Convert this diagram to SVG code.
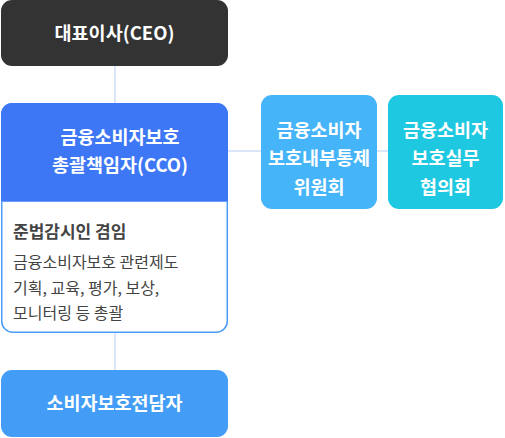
<svg xmlns="http://www.w3.org/2000/svg" width="505" height="438" viewBox="0 0 505 438">
<style>
.t{font-family:"Noto Sans CJK KR","Noto Sans",sans-serif;fill:#fff;font-weight:700;font-size:18.5px;text-anchor:middle}
.b{font-family:"Noto Sans CJK KR","Noto Sans",sans-serif;fill:#444;font-size:16px}
.line{stroke:#dbe6fb;stroke-width:2;fill:none}
</style>
<rect width="505" height="438" fill="#fff"/>
<g id="connectors">
<line class="line" x1="115" y1="66" x2="115" y2="103"/>
<line class="line" x1="228" y1="151" x2="261" y2="151"/>
<line class="line" x1="377" y1="151" x2="388" y2="151"/>
<line class="line" x1="115" y1="333" x2="115" y2="370"/>
</g>
<g id="ceo">
<rect x="1" y="0" width="227" height="66" rx="11" fill="#333333"/>
<text class="t" x="114.5" y="40">대표이사(CEO)</text>
</g>
<g id="cco">
<rect x="1.75" y="103.75" width="225.5" height="228.5" rx="11" fill="#fff" stroke="#4a9cf5" stroke-width="1.5"/>
<path d="M1,201 V114 A11,11 0 0 1 12,103 H217 A11,11 0 0 1 228,114 V201 Z" fill="#3e77f5"/>
<line x1="1" y1="201.5" x2="228" y2="201.5" stroke="#6b9cf8" stroke-width="1"/>
<text class="t" x="120" y="143.5">금융소비자보호</text>
<text class="t" x="120" y="171.5">총괄책임자(CCO)</text>
<text class="b" x="13" y="238" style="font-weight:700;font-size:17px">준법감시인 겸임</text>
<text class="b" x="13" y="268">금융소비자보호 관련제도</text>
<text class="b" x="13" y="294">기획, 교육, 평가, 보상,</text>
<text class="b" x="13" y="319">모니터링 등 총괄</text>
</g>
<g id="committee">
<rect x="261" y="95" width="116" height="114" rx="11" fill="#45b4f8"/>
<text class="t" x="319" y="136.5">금융소비자</text>
<text class="t" x="319" y="164.5">보호내부통제</text>
<text class="t" x="319" y="193.5">위원회</text>
</g>
<g id="council">
<rect x="388" y="95" width="115" height="114" rx="11" fill="#1ec8e0"/>
<text class="t" x="445.5" y="136.5">금융소비자</text>
<text class="t" x="445.5" y="164.5">보호실무</text>
<text class="t" x="445.5" y="193.5">협의회</text>
</g>
<g id="staff">
<rect x="1" y="370" width="227" height="67" rx="11" fill="#439df7"/>
<text class="t" x="114.5" y="410">소비자보호전담자</text>
</g>
</svg>
